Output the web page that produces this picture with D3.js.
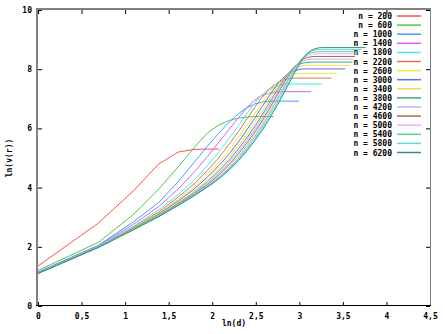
<!DOCTYPE html>
<html>
<head>
<meta charset="utf-8">
<script src="https://cdn.jsdelivr.net/npm/d3@7"></script>
<style>
  body { margin: 0; background: #fff; }
  svg { display: block; }
  .tick text, .lbl { font-family: "DejaVu Sans Mono", monospace; font-weight: bold; font-size: 8px; fill: #000; }
  .tick line { stroke: #000; }
</style>
</head>
<body>
<script>
(function(){

//series names and colours
var sizes = [200, 600, 1000, 1400, 1800, 2200, 2600, 3000, 3400, 3800, 4200, 4600, 5000, 5400, 5800, 6200];
var colors = ["#ff5050", "#50c850", "#40a0ff", "#d060ff", "#40f0f0", "#d87848", "#e8e840", "#6070e0",
              "#ffd060", "#40a880", "#b8b0ff", "#a87040", "#ffa8ff", "#50d8a0", "#60d8d8", "#309090"];

//ln(v(r)) for d = 1, 2, 3 ...
var v200  = [1.35, 2.8, 3.9, 4.8, 5.2, 5.29, 5.3];
var v600  = [1.2, 2.15, 3.1, 3.95, 4.7, 5.35, 5.85, 6.12, 6.27, 6.35, 6.38, 6.4];
var v1000 = [1.15, 2.05, 2.85, 3.5, 4.2, 4.85, 5.4, 5.85, 6.22, 6.5, 6.7, 6.82, 6.88, 6.91, 6.92];
var v1400 = [1.13, 2.03, 2.77, 3.36, 3.95, 4.52, 5.05, 5.55, 5.98, 6.37, 6.7, 6.95, 7.1, 7.18, 7.22, 7.24];
var v1800 = [1.12, 2.01, 2.7, 3.25, 3.77, 4.25, 4.75, 5.22, 5.68, 6.1, 6.5, 6.85, 7.12, 7.3, 7.4, 7.46, 7.49, 7.5];
var v2200 = [1.12, 2.0, 2.67, 3.18, 3.68, 4.12, 4.58, 5.02, 5.48, 5.9, 6.32, 6.7, 7.02, 7.28, 7.46, 7.58, 7.65, 7.68, 7.7];
var v2600 = [1.11, 2.0, 2.65, 3.14, 3.6, 4.02, 4.45, 4.86, 5.28, 5.7, 6.1, 6.48, 6.84, 7.15, 7.4, 7.6, 7.73, 7.8, 7.84, 7.86];
var v3000 = [1.11, 1.99, 2.63, 3.11, 3.55, 3.95, 4.36, 4.75, 5.15, 5.55, 5.95, 6.33, 6.7, 7.03, 7.33, 7.58, 7.76, 7.88, 7.95, 7.99, 8.01];
var v3400 = [1.11, 1.99, 2.62, 3.08, 3.5, 3.88, 4.27, 4.65, 5.03, 5.42, 5.8, 6.18, 6.55, 6.9, 7.22, 7.5, 7.74, 7.92, 8.03, 8.09, 8.12, 8.13];
var v3800 = [1.1, 1.99, 2.61, 3.06, 3.47, 3.83, 4.2, 4.57, 4.94, 5.32, 5.68, 6.05, 6.42, 6.78, 7.12, 7.43, 7.7, 7.92, 8.07, 8.16, 8.21, 8.23, 8.24];
var v4200 = [1.1, 1.98, 2.6, 3.05, 3.45, 3.8, 4.14, 4.5, 4.86, 5.23, 5.59, 5.95, 6.32, 6.68, 7.03, 7.35, 7.65, 7.9, 8.08, 8.2, 8.28, 8.32, 8.34];
var v4600 = [1.1, 1.98, 2.6, 3.04, 3.43, 3.77, 4.1, 4.44, 4.79, 5.15, 5.5, 5.86, 6.22, 6.58, 6.93, 7.27, 7.58, 7.86, 8.08, 8.24, 8.34, 8.4, 8.42, 8.43];
var v5000 = [1.1, 1.98, 2.59, 3.03, 3.42, 3.75, 4.07, 4.39, 4.72, 5.07, 5.42, 5.78, 6.13, 6.49, 6.84, 7.18, 7.5, 7.8, 8.05, 8.25, 8.38, 8.46, 8.5, 8.52];
var v5400 = [1.1, 1.98, 2.59, 3.03, 3.41, 3.74, 4.05, 4.35, 4.67, 5.0, 5.35, 5.7, 6.05, 6.4, 6.76, 7.1, 7.43, 7.74, 8.01, 8.24, 8.4, 8.5, 8.56, 8.58, 8.59];
var v5800 = [1.1, 1.98, 2.58, 3.02, 3.4, 3.73, 4.03, 4.32, 4.63, 4.95, 5.29, 5.63, 5.97, 6.32, 6.67, 7.0, 7.34, 7.66, 7.95, 8.2, 8.4, 8.53, 8.61, 8.65, 8.67];
var v6200 = [1.1, 1.98, 2.58, 3.02, 3.4, 3.72, 4.02, 4.3, 4.6, 4.91, 5.24, 5.57, 5.9, 6.24, 6.58, 6.92, 7.25, 7.57, 7.87, 8.14, 8.37, 8.53, 8.63, 8.69, 8.72, 8.73];
var seriesValues = [v200, v600, v1000, v1400, v1800, v2200, v2600, v3000, v3400, v3800, v4200, v4600, v5000, v5400, v5800, v6200];
//largest d of each series (flat tail up to here)
var lastD = [8, 15, 20, 23, 26, 29, 31, 34, 36, 37, 37, 38, 39, 40, 41, 43];

var xTicks = [0, 0.5, 1, 1.5, 2, 2.5, 3, 3.5, 4, 4.5];
var yTicks = [0, 2, 4, 6, 8, 10];

var width = 445, height = 334;

var svg = d3.select("body").append("svg")
    .attr("width", width)
    .attr("height", height);

var x = d3.scaleLinear().domain([0, 4.5]).range([38, 430]);
var y = d3.scaleLinear().domain([0, 10]).range([306, 10]);

var fmt = function(d){ return String(d).replace(".", ","); };

//axes with inward ticks
svg.append("g")
    .attr("transform", "translate(0,306)")
    .call(d3.axisBottom(x).tickValues(xTicks).tickSize(-4).tickPadding(7).tickFormat(fmt))
    .call(function(g){ g.select(".domain").remove(); });
svg.append("g")
    .attr("transform", "translate(38,0)")
    .call(d3.axisLeft(y).tickValues(yTicks).tickSize(-4).tickPadding(6))
    .call(function(g){ g.select(".domain").remove(); });
svg.append("g")
    .attr("transform", "translate(0,10)")
    .call(d3.axisTop(x).tickValues(xTicks).tickSize(-4).tickFormat(""))
    .call(function(g){ g.select(".domain").remove(); });
svg.append("g")
    .attr("transform", "translate(430,0)")
    .call(d3.axisRight(y).tickValues(yTicks).tickSize(-4).tickFormat(""))
    .call(function(g){ g.select(".domain").remove(); });

svg.selectAll(".tick text").attr("font-family", null).attr("font-size", null);

//frame
svg.append("line").attr("x1", 37).attr("x2", 37).attr("y1", 9).attr("y2", 306)
    .attr("stroke", "#808080").attr("stroke-width", 2);
svg.append("line").attr("x1", 36).attr("x2", 431).attr("y1", 9).attr("y2", 9)
    .attr("stroke", "#808080").attr("stroke-width", 2);
svg.append("line").attr("x1", 430.5).attr("x2", 430.5).attr("y1", 9).attr("y2", 306)
    .attr("stroke", "#808080").attr("stroke-width", 1);
svg.append("line").attr("x1", 36).attr("x2", 431).attr("y1", 305.5).attr("y2", 305.5)
    .attr("stroke", "#000").attr("stroke-width", 1);

//axis titles
svg.append("text").attr("class", "lbl")
    .attr("x", 234).attr("y", 326).attr("text-anchor", "middle")
    .text("ln(d)");
svg.append("text").attr("class", "lbl")
    .attr("transform", "translate(12,158) rotate(-90)")
    .attr("text-anchor", "middle")
    .text("ln(v(r))");

//legend
var legend = svg.append("g");
sizes.forEach(function(n, i){
    var ly = 16 + i * 9.1;
    legend.append("text").attr("class", "lbl")
        .attr("x", 392).attr("y", ly + 3)
        .attr("text-anchor", "end")
        .text("n = " + n);
    legend.append("line")
        .attr("x1", 397).attr("x2", 421)
        .attr("y1", ly).attr("y2", ly)
        .attr("stroke", colors[i]).attr("stroke-width", 1.5);
});

//curves
var line = d3.line()
    .x(function(d){ return x(Math.log(d.d)); })
    .y(function(d){ return y(d.v); });

seriesValues.forEach(function(vals, i){
    var pts = vals.map(function(v, k){ return {d: k + 1, v: v}; });
    pts.push({d: lastD[i], v: vals[vals.length - 1]});
    svg.append("path")
        .datum(pts)
        .attr("fill", "none")
        .attr("stroke", colors[i])
        .attr("stroke-width", 1)
        .attr("d", line);
});

})();
</script>
</body>
</html>
